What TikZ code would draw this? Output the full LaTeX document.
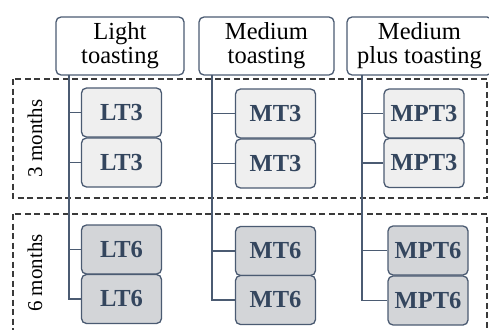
\documentclass[tikz,border=0pt]{standalone}
\usepackage{fontspec}
\setmainfont{Liberation Serif}
\definecolor{edge}{HTML}{4B5B72}
\definecolor{lightfill}{HTML}{EFEFEF}
\definecolor{darkfill}{HTML}{D3D5D8}
\definecolor{labtext}{HTML}{34465E}
\definecolor{dashcol}{HTML}{3A3A3A}
\begin{document}
\begin{tikzpicture}[x=1pt,y=-1pt,
  header/.style={draw=edge,line width=1.3pt,rounded corners=5pt,fill=white,
    minimum height=58pt,align=center,inner sep=0pt,
    font=\fontsize{24.5}{24}\selectfont},
  sample/.style={draw=edge,line width=1.3pt,rounded corners=5pt,
    minimum width=80pt,minimum height=49pt,inner sep=0pt,
    text=labtext,font=\fontsize{24.5}{26}\selectfont\bfseries},
  s3/.style={sample,fill=lightfill},
  s6/.style={sample,fill=darkfill},
  group/.style={draw=dashcol,line width=1.3pt,dash pattern=on 6pt off 3.5pt},
  link/.style={draw=edge,line width=1.4pt},
  period/.style={rotate=90,font=\fontsize{21}{23}\selectfont}]
\useasboundingbox (0,0) rectangle (489,329);
\begin{scope}
\clip (0,0) rectangle (489,329);
% dashed groups
\draw[group] (13,79) rectangle (487,198);
\draw[group] (13,214) rectangle (487,333);
\node[period] (m3) at (35,138.5) {3 months};
\node[period] (m6) at (35,273) {6 months};
% headers
\node[header,minimum width=128pt] (hl) at (120,46) {Light\\toasting};
\node[header,minimum width=135pt] (hm) at (266.5,46) {Medium\\toasting};
\node[header,minimum width=145pt] (hp) at (419.5,46) {Medium\\plus toasting};
% trunk start points
\coordinate (tl) at (69,75);
\coordinate (tm) at (212,75);
\coordinate (tp) at (362,75);
% sample boxes
\node[s3] (l1) at (121.5,112.5) {LT3};
\node[s3] (l2) at (121.5,162.5) {LT3};
\node[s6] (l3) at (121.5,249.5) {LT6};
\node[s6] (l4) at (121.5,299) {LT6};
\node[s3] (m1) at (275.5,113.5) {MT3};
\node[s3] (m2) at (275.5,163.5) {MT3};
\node[s6] (m3b) at (275.5,251) {MT6};
\node[s6] (m4) at (275.5,300) {MT6};
\node[s3] (p1) at (424,113.5) {MPT3};
\node[s3] (p2) at (424,163) {MPT3};
\node[s6] (p3) at (428,250.5) {MPT6};
\node[s6] (p4) at (428,300.5) {MPT6};
% connectors
\draw[link] (tl) |- (l4.west);
\draw[link] (tl |- l1.west) -- (l1.west);
\draw[link] (tl |- l2.west) -- (l2.west);
\draw[link] (tl |- l3.west) -- (l3.west);
\draw[link] (tm) |- (m4.west);
\draw[link] (tm |- m1.west) -- (m1.west);
\draw[link] (tm |- m2.west) -- (m2.west);
\draw[link] (tm |- m3b.west) -- (m3b.west);
\draw[link] (tp) |- (p4.west);
\draw[link] (tp |- p1.west) -- (p1.west);
\draw[link] (tp |- p2.west) -- (p2.west);
\draw[link] (tp |- p3.west) -- (p3.west);
\end{scope}
\end{tikzpicture}
\end{document}
